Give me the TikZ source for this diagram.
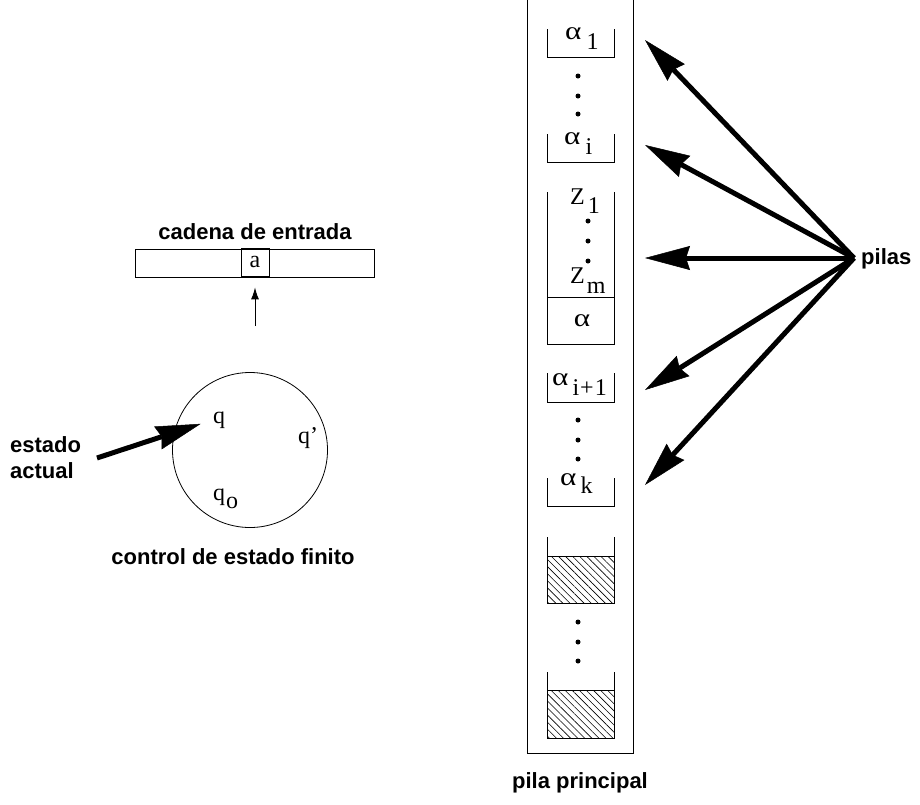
\documentclass[tikz,border=0pt]{standalone}
\usepackage{graphicx}
\usepackage{fontspec}
\setmainfont{Liberation Serif}
\setsansfont{Liberation Sans}
\usetikzlibrary{arrows.meta,patterns.meta}

\newcommand{\conind}[4]{#1\hspace{#3}\raisebox{-#4}{#2}}
\newcommand{\alfa}{\scalebox{1.3}[1.05]{α}}

\begin{document}
\begin{tikzpicture}[x=1pt, y=-1pt,
    rotulo/.style={font=\fontsize{22}{26}\selectfont\sffamily\bfseries, inner sep=0pt},
    simbolo/.style={font=\fontsize{24}{28}\selectfont, inner sep=0pt, anchor=base west},
    caja/.style={line width=0.8pt},
    gruesa/.style={line width=5pt, -{Stealth[length=45pt, width=24pt, inset=4pt, line width=0.5pt]}},
    rayado/.style={pattern={Lines[angle=-45, distance=5pt, line width=0.6pt]}}]
\useasboundingbox (0,0) rectangle (920,804);

% cinta de entrada
\node[caja, draw, minimum width=239pt, minimum height=28pt, inner sep=0pt] (cinta) at (254.5,263) {};
\node[caja, draw, minimum width=28pt, minimum height=28pt, inner sep=0pt,
      font=\fontsize{24}{28}\selectfont] (celda) at (255,262) {a};
\node[rotulo] (cadena) at (255,232) {cadena de entrada};
\coordinate (cabeza) at (255,326);
\draw[line width=1pt, -{Latex[length=12pt, width=8pt]}] (cabeza) -- ([yshift=-11pt]celda.south);

% control de estado finito
\node[caja, draw, circle, minimum size=155pt, inner sep=0pt] (control) at (250,450) {};
\node[simbolo] (q) at (213,423) {q};
\node[simbolo] (qp) at (298,443) {q'};
\node[simbolo] (q0) at (213,500) {\conind{q}{o}{1pt}{8pt}};
\node[rotulo] (finito) at (233,557) {control de estado finito};
\node[rotulo, anchor=west, align=left] (actual) at (10,458) {estado\\actual};
\coordinate (actual-cola) at (97,458);
\draw[gruesa, shorten >=13pt] (actual-cola) -- (q.west);

% pila principal
\draw[caja] (527,0) -- (527,753) -- (633,753) -- (633,0);
\node[rotulo] (principal) at (580,783) {pila principal};
\foreach \arriba/\abajo in {29/57, 134/162, 192/297, 373/402, 478/506, 537/603, 672/738}
    \draw[caja] (547,\arriba) -- (547,\abajo) -- (614,\abajo) -- (614,\arriba);
\draw[caja] (547,297) rectangle (614,344);
\draw[caja, rayado] (547,556) rectangle (614,603);
\draw[caja, rayado] (547,690) rectangle (614,738);
\foreach \y in {76,96,114,420,440,459,622,642,661}
    \fill (578,\y) circle (2.5pt);
\foreach \y in {221,241,261}
    \fill (588,\y) circle (2.5pt);

\node[simbolo] (a1) at (565,39) {\conind{\alfa}{1}{5pt}{10pt}};
\node[simbolo] (ai) at (564,144) {\conind{\alfa}{i}{5pt}{10pt}};
\node[simbolo] (z1) at (570,204) {\conind{Z}{1}{3pt}{9pt}};
\node[simbolo] (zm) at (570,283) {\conind{Z}{m}{2pt}{10pt}};
\node[font=\fontsize{24}{28}\selectfont, inner sep=0pt] (alfa) at (582,321) {\alfa};
\node[simbolo] (ai1) at (552,385) {\conind{\alfa}{i\kern1pt+\kern1pt1}{4pt}{10pt}};
\node[simbolo] (ak) at (560,485) {\conind{\alfa}{k}{4pt}{8pt}};

% pilas
\coordinate (centro) at (854,258);
\node[rotulo, anchor=west] (pilas) at (861,259) {pilas};
\foreach \y [count=\i] in {40,145,258,390,485}
    \coordinate (blanco\i) at (645,\y);
\foreach \i in {1,...,5}
    \draw[gruesa] (centro) -- (blanco\i);
\end{tikzpicture}
\end{document}
